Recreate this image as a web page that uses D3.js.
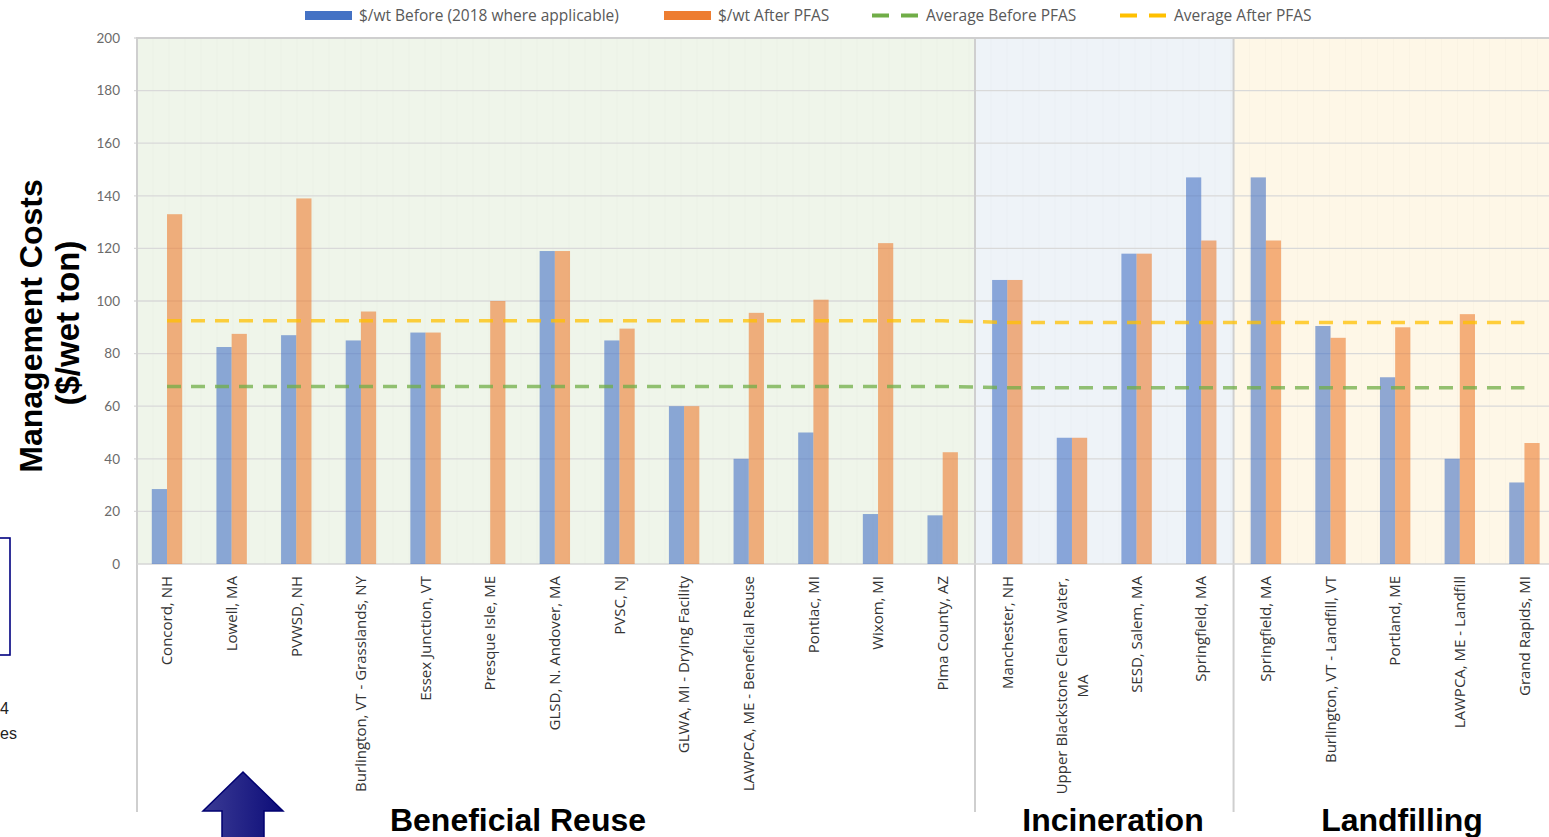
<!DOCTYPE html>
<html>
<head>
<meta charset="utf-8">
<script src="https://cdn.jsdelivr.net/npm/d3@7"></script>
<style>
  html, body { margin: 0; padding: 0; background: #fff; }
  svg { display: block; }
</style>
</head>
<body>
<svg id="chart" width="1549" height="837"></svg>
<script>
// Biosolids management cost per wet ton, before and after PFAS concerns
const categories = [
  "Concord, NH", "Lowell, MA", "PVWSD, NH", "Burlington, VT - Grasslands, NY",
  "Essex Junction, VT", "Presque Isle, ME", "GLSD, N. Andover, MA", "PVSC, NJ",
  "GLWA, MI - Drying Facility", "LAWPCA, ME - Beneficial Reuse", "Pontiac, MI",
  "Wixom, MI", "Pima County, AZ",
  "Manchester, NH", "Upper Blackstone Clean Water, MA", "SESD, Salem, MA", "Springfield, MA",
  "Springfield, MA", "Burlington, VT - Landfill, VT", "Portland, ME",
  "LAWPCA, ME - Landfill", "Grand Rapids, MI"
];
const costBefore = [28.5, 82.5, 87, 85, 88, null, 119, 85, 60, 40, 50, 19, 18.5,
                    108, 48, 118, 147, 147, 90.5, 71, 40, 31];
const costAfter  = [133, 87.5, 139, 96, 88, 100, 119, 89.5, 60, 95.5, 100.5, 122, 42.5,
                    108, 48, 118, 123, 123, 86, 90, 95, 46];
const avgBefore = [67.5, 67.5, 67.5, 67.5, 67.5, 67.5, 67.5, 67.5, 67.5, 67.5, 67.5, 67.5, 67.5,
                   67, 67, 67, 67, 67, 67, 67, 67, 67];
const avgAfter  = [92.5, 92.5, 92.5, 92.5, 92.5, 92.5, 92.5, 92.5, 92.5, 92.5, 92.5, 92.5, 92.5,
                   91.8, 91.8, 91.8, 91.8, 91.8, 91.8, 91.8, 91.8, 91.8];
const sectionNames = ["Beneficial Reuse", "Incineration", "Landfilling"];
const sectionSizes = [13, 4, 5];
const yTicks = [0, 20, 40, 60, 80, 100, 120, 140, 160, 180, 200];
const legendLabels = ["$/wt Before (2018 where applicable)", "$/wt After PFAS",
                      "Average Before PFAS", "Average After PFAS"];

const svg = d3.select("#chart");
const W = 1549, H = 837;
const plotTop = 38, plotBottom = 564, plotLeft = 137;
const labelBottom = 812;
const step = 64.64, firstStart = 134.68;
const font = "'Open Sans', Lato, sans-serif";
const boldFont = "'Liberation Sans', Arial, sans-serif";

const x = d3.scaleBand().domain(d3.range(categories.length))
  .range([firstStart, firstStart + step * categories.length]);
const barW = 15.2;
const xs = d3.scaleBand().domain(["before", "after"])
  .range([step / 2 - barW, step / 2 + barW]);
const y = d3.scaleLinear().domain([0, 200]).range([plotBottom, plotTop]);

// section panels
const panelFill = ["#eff5ea", "#eef3f8", "#fef7e7"];
let startIdx = 0;
const sections = sectionNames.map((name, i) => {
  const s = { name, from: startIdx, to: startIdx + sectionSizes[i], fill: panelFill[i] };
  startIdx += sectionSizes[i];
  return s;
});
const edge = i => (i === 0 ? plotLeft : x(i));
const panelRight = (s, i) => (i === sections.length - 1 ? W + 2 : x(s.to));

const gPanels = svg.append("g");
sections.forEach((s, i) => {
  const x0 = edge(s.from), x1 = panelRight(s, i);
  gPanels.append("rect").attr("x", x0).attr("y", plotTop)
    .attr("width", x1 - x0).attr("height", plotBottom - plotTop)
    .attr("fill", s.fill);
  // faint inner grid texture
  for (let gx = x0 + 16; gx < x1; gx += 16) {
    gPanels.append("line").attr("x1", gx).attr("x2", gx)
      .attr("y1", plotTop).attr("y2", plotBottom)
      .attr("stroke", "#000").attr("stroke-opacity", 0.018);
  }
});

// horizontal gridlines
svg.append("g").selectAll("line").data(yTicks.filter(d => d > 0)).join("line")
  .attr("x1", plotLeft - 3).attr("x2", W)
  .attr("y1", d => y(d)).attr("y2", d => y(d))
  .attr("stroke", "#d9d9d9").attr("stroke-width", 1.3);

// panel outlines
sections.forEach((s, i) => {
  const x0 = edge(s.from), x1 = panelRight(s, i);
  svg.append("path")
    .attr("d", `M${x0},${labelBottom}V${plotTop}H${x1}`)
    .attr("fill", "none").attr("stroke", "#cfcfcf").attr("stroke-width", 2);
});

// y axis
const yAxis = d3.axisLeft(y).tickValues(yTicks).tickSize(0).tickPadding(17);
const gy = svg.append("g").attr("transform", `translate(${plotLeft},0)`).call(yAxis);
gy.select(".domain").remove();
gy.selectAll("text").attr("font-family", "Lato, 'Open Sans', sans-serif")
  .attr("font-size", 13.5).attr("fill", "#6b6b6b");

// x axis line
svg.append("line").attr("x1", plotLeft).attr("x2", W)
  .attr("y1", plotBottom).attr("y2", plotBottom)
  .attr("stroke", "#d6d6d6").attr("stroke-width", 1.5);

// bars
const gBars = svg.append("g");
const series = [
  { key: "before", values: costBefore, color: "#4472c4" },
  { key: "after", values: costAfter, color: "#ed7d31" }
];
series.forEach(s => {
  gBars.selectAll(null).data(s.values.map((v, i) => ({ v, i })).filter(d => d.v != null))
    .join("rect")
    .attr("x", d => x(d.i) + xs(s.key))
    .attr("width", xs.bandwidth())
    .attr("y", d => y(d.v))
    .attr("height", d => y(0) - y(d.v))
    .attr("fill", s.color).attr("fill-opacity", 0.6);
});

// average lines
const line = d3.line().x((d, i) => x(i) + step / 2).y(d => y(d));
svg.append("path").attr("d", line(avgBefore)).attr("fill", "none")
  .attr("stroke", "#70ad47").attr("stroke-opacity", 0.75)
  .attr("stroke-width", 3.5).attr("stroke-dasharray", "14 10");
svg.append("path").attr("d", line(avgAfter)).attr("fill", "none")
  .attr("stroke", "#ffc000").attr("stroke-opacity", 0.75)
  .attr("stroke-width", 3.5).attr("stroke-dasharray", "14 10");

// category labels (rotated)
const gLab = svg.append("g").attr("font-family", font).attr("font-size", 15)
  .attr("fill", "#333");
categories.forEach((c, i) => {
  const cx = x(i) + step / 2;
  let lines = [c];
  if (c.length > 31) {
    const k = c.lastIndexOf(" ");
    lines = [c.slice(0, k), c.slice(k + 1)];
  }
  const t = gLab.append("text")
    .attr("transform", `translate(${cx},576) rotate(-90)`)
    .attr("text-anchor", lines.length > 1 ? "middle" : "end");
  if (lines.length > 1) {
    // wrapped label: lines centered within the block hanging from the axis
    const blockLen = 220;
    lines.forEach((l, j) => {
      t.append("tspan").attr("x", -blockLen / 2)
        .attr("y", (j - (lines.length - 1) / 2) * 21)
        .attr("dy", "0.35em").text(l);
    });
  } else {
    t.attr("dy", "0.35em").text(c);
  }
});

// y axis title
const gt = svg.append("g").attr("font-family", boldFont)
  .attr("font-weight", "bold").attr("fill", "#000");
gt.append("text").attr("transform", "translate(42,326) rotate(-90)")
  .attr("font-size", 32).attr("text-anchor", "middle").text("Management Costs");
gt.append("text").attr("transform", "translate(79,323) rotate(-90)")
  .attr("font-size", 33).attr("text-anchor", "middle").text("($/wet ton)");

// section titles
const secCenters = [518, 1113, 1402];
sections.forEach((s, i) => {
  svg.append("text").attr("x", secCenters[i]).attr("y", 831)
    .attr("text-anchor", "middle")
    .attr("font-family", boldFont)
    .attr("font-weight", "bold").attr("font-size", 32).attr("fill", "#000")
    .text(s.name);
});

// legend
const gLeg = svg.append("g").attr("font-family", font).attr("font-size", 15.5)
  .attr("fill", "#595959");
const legendItems = [
  { x: 305, type: "rect", color: "#4472c4" },
  { x: 664, type: "rect", color: "#ed7d31" },
  { x: 872, type: "dash", color: "#70ad47" },
  { x: 1120, type: "dash", color: "#ffc000" }
];
legendItems.forEach((it, i) => {
  if (it.type === "rect") {
    gLeg.append("rect").attr("x", it.x).attr("y", 11).attr("width", 47).attr("height", 9)
      .attr("fill", it.color);
  } else {
    gLeg.append("line").attr("x1", it.x).attr("x2", it.x + 46)
      .attr("y1", 15.5).attr("y2", 15.5).attr("stroke", it.color)
      .attr("stroke-width", 4).attr("stroke-dasharray", "17 12");
  }
  gLeg.append("text").attr("x", it.x + 54).attr("y", 15.5).attr("dy", "0.35em")
    .text(legendLabels[i]);
});

// slide decorations at the left edge
svg.append("rect").attr("x", -6).attr("y", 538).attr("width", 16).attr("height", 117)
  .attr("fill", "#fff").attr("stroke", "#000080").attr("stroke-width", 1.6);
const gSide = svg.append("g").attr("font-family", boldFont)
  .attr("font-size", 16).attr("fill", "#222");
gSide.append("text").attr("x", 0).attr("y", 714).text("4");
gSide.append("text").attr("x", 0).attr("y", 739).text("es");

const defs = svg.append("defs");
const grad = defs.append("linearGradient").attr("id", "arrowGrad")
  .attr("x1", "0%").attr("x2", "100%");
grad.append("stop").attr("offset", "0%").attr("stop-color", "#3b3b95");
grad.append("stop").attr("offset", "100%").attr("stop-color", "#0c0c78");
svg.append("path")
  .attr("d", "M243,772 L283,811 L264,811 L264,840 L222,840 L222,811 L203,811 Z")
  .attr("fill", "url(#arrowGrad)").attr("stroke", "#000070").attr("stroke-width", 1.5);
</script>
</body>
</html>
